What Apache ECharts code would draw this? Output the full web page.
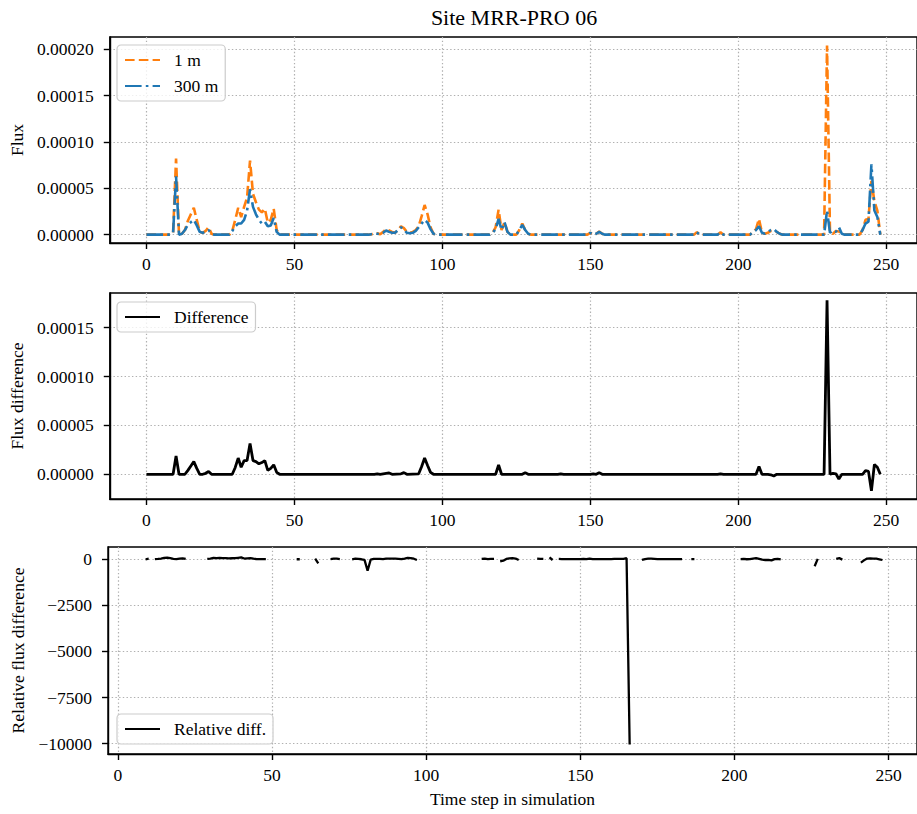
<!DOCTYPE html>
<html><head><meta charset="utf-8">
<script src="https://cdn.jsdelivr.net/npm/echarts@6/dist/echarts.min.js"></script>
<style>html,body{margin:0;padding:0;background:#fff}#c{width:917px;height:814px}</style>
</head><body><div id="c"></div><script>
// ---- tick labels ----
const xTicks = [0, 50, 100, 150, 200, 250];
const fluxTicks = [0, 0.00005, 0.0001, 0.00015, 0.0002];
const diffTicks = [0, 0.00005, 0.0001, 0.00015];
const relTicks = [0, -2500, -5000, -7500, -10000];

// ---- top panel: flux at 1 m and 300 m ----
const timeTop = [0, 8, 9, 10, 11, 12, 13, 14, 15, 16, 17, 18, 19, 20, 21, 22, 23, 28,
  29, 30, 31, 32, 33, 34, 35, 36, 37, 38, 39, 40, 41, 42, 43, 44, 45, 75,
  76, 77, 78, 79, 80, 81, 82, 83, 84, 85, 86, 87, 88, 89, 90, 91, 92, 93, 94, 95, 96, 97, 98, 116,
  117, 118, 119, 120, 121, 122, 123, 125, 126, 127, 128, 129, 130, 149,
  150, 151, 152, 153, 154, 155, 185, 186, 187, 193, 194, 195, 204,
  205, 206, 207, 208, 209, 210, 211, 212, 213, 214, 215, 229,
  230, 231, 232, 233, 234, 235, 236, 241, 242, 243, 244, 245, 246, 247, 248];
const flux1m = [0, 0, 0.2e-5, 8.2e-5, 0, 0.1e-5, 0.5e-5, 1.5e-5, 2.2e-5, 2.9e-5, 1.6e-5, 0.3e-5, 0.2e-5, 0.4e-5, 0.8e-5, 0.1e-5, 0, 0,
  0.4e-5, 1.6e-5, 2.9e-5, 1.9e-5, 3.0e-5, 4.0e-5, 8.0e-5, 4.4e-5, 3.5e-5, 2.7e-5, 2.4e-5, 2.8e-5, 1.3e-5, 1.6e-5, 2.8e-5, 0.5e-5, 0, 0,
  0.05e-5, 0.1e-5, 0.15e-5, 0.05e-5, 0.3e-5, 0.6e-5, 0.45e-5, 0.3e-5, 0.2e-5, 0.5e-5, 0.9e-5, 0.7e-5, 0.3e-5, 0.2e-5, 0.3e-5, 0.5e-5, 0.9e-5, 2.0e-5, 3.2e-5, 2.2e-5, 0.8e-5, 0.1e-5, 0, 0,
  0.2e-5, 0.8e-5, 2.7e-5, 0.5e-5, 1.35e-5, 0.3e-5, 0, 0, 0.5e-5, 1.2e-5, 0.5e-5, 0.1e-5, 0, 0,
  0.2e-5, 0, 0.1e-5, 0.35e-5, 0.1e-5, 0, 0, 0.25e-5, 0, 0, 0.25e-5, 0, 0,
  0.3e-5, 0.6e-5, 1.7e-5, 0.2e-5, 0.1e-5, 0.2e-5, 0.4e-5, 0.4e-5, 0.3e-5, 0.1e-5, 0, 0,
  20.4e-5, 0.2e-5, 0.1e-5, 0.4e-5, 0.35e-5, 0.1e-5, 0, 0, 0.5e-5, 1.6e-5, 1.7e-5, 5.8e-5, 3.6e-5, 2.6e-5, 0];
const flux300m = [0, 0, 0.2e-5, 6.3e-5, 0, 0.1e-5, 0.5e-5, 1.1e-5, 1.35e-5, 1.6e-5, 1.0e-5, 0.3e-5, 0.2e-5, 0.3e-5, 0.5e-5, 0.1e-5, 0, 0,
  0.4e-5, 0.9e-5, 1.2e-5, 1.2e-5, 1.6e-5, 2.6e-5, 4.9e-5, 3.0e-5, 2.2e-5, 1.6e-5, 1.2e-5, 1.4e-5, 0.9e-5, 1.0e-5, 1.8e-5, 0.3e-5, 0, 0,
  0.05e-5, 0.1e-5, 0.1e-5, 0.05e-5, 0.2e-5, 0.45e-5, 0.3e-5, 0.2e-5, 0.2e-5, 0.5e-5, 0.8e-5, 0.55e-5, 0.2e-5, 0.15e-5, 0.2e-5, 0.4e-5, 0.8e-5, 1.2e-5, 1.6e-5, 1.3e-5, 0.6e-5, 0.1e-5, 0, 0,
  0.2e-5, 0.6e-5, 1.7e-5, 0.5e-5, 1.35e-5, 0.3e-5, 0, 0, 0.5e-5, 1.05e-5, 0.5e-5, 0.1e-5, 0, 0,
  0.2e-5, 0, 0.1e-5, 0.3e-5, 0.1e-5, 0, 0, 0.25e-5, 0, 0, 0.25e-5, 0, 0,
  0.3e-5, 0.5e-5, 0.9e-5, 0.2e-5, 0.1e-5, 0.3e-5, 0.5e-5, 0.6e-5, 0.3e-5, 0.1e-5, 0, 0,
  2.6e-5, 0.2e-5, 0.45e-5, 0.3e-5, 0.8e-5, 0.1e-5, 0, 0, 0.5e-5, 1.2e-5, 1.4e-5, 7.6e-5, 2.6e-5, 1.9e-5, 0];

// ---- middle panel: flux difference ----
const timeDiff = [0, 9, 10, 11, 13, 14, 15, 16, 17, 18, 19, 20, 21, 22, 29, 30, 31, 32, 33, 34, 35, 36, 37, 38, 39, 40,
  41, 42, 43, 44, 45, 77, 78, 79, 81, 82, 83, 86, 87, 88, 92, 93, 94, 95, 96, 97, 118, 119, 120, 127, 128, 129,
  139, 140, 141, 150, 151, 152, 153, 154, 193, 194, 195, 206, 207, 208, 210, 211, 212, 213, 229, 230, 231, 232,
  233, 234, 235, 242, 243, 244, 245, 246, 247, 248];
const fluxDiff = [0, 0, 1.86e-5, 0, 0, 0.4e-5, 0.85e-5, 1.3e-5, 0.6e-5, 0, 0, 0.1e-5, 0.28e-5, 0, 0, 0.7e-5, 1.66e-5, 0.72e-5, 1.4e-5, 1.4e-5, 3.14e-5, 1.4e-5, 1.3e-5, 1.07e-5, 1.2e-5, 1.4e-5,
  0.4e-5, 0.6e-5, 0.97e-5, 0.2e-5, 0, 0, 0.05e-5, 0, 0.1e-5, 0.14e-5, 0, 0.05e-5, 0.17e-5, 0, 0.05e-5, 0.8e-5, 1.66e-5, 0.9e-5, 0.2e-5, 0, 0, 0.95e-5, 0, 0, 0.17e-5, 0,
  0, 0.05e-5, 0, 0, 0.05e-5, 0, 0.17e-5, 0, 0, 0.05e-5, 0, 0, 0.79e-5, 0, 0, -0.05e-5, -0.17e-5, 0, 0, 17.8e-5, 0, 0.1e-5,
  0.05e-5, -0.48e-5, 0, 0, 0.38e-5, 0.3e-5, -1.69e-5, 1.0e-5, 0.72e-5, 0];

// ---- bottom panel: relative flux difference (null = no value) ----
const timeRel = [9, 10, 11,
  12, 13, 14, 15, 16, 17, 18, 19, 20, 21, 22, 23,
  29, 30, 31, 32, 33, 34, 35, 36, 37, 38, 39, 40, 41, 42, 43, 44, 45, 46, 47, 48, 49,
  58, 59, 60,
  64, 65, 66,
  69, 70, 71, 72, 73,
  76, 77, 78, 79, 80, 81, 82, 83, 84, 85, 86, 87, 88, 89, 90, 91, 92, 93, 94, 95, 96, 97, 98,
  118, 119, 120, 121, 122, 123,
  124, 125, 126, 127, 128, 129, 130, 131,
  136, 137, 138, 139,
  140, 141, 142,
  143, 144, 145, 146, 147, 148, 149, 150, 151, 152, 153, 154, 155, 156, 157, 158, 159, 160, 161, 162, 163, 164, 165, 166, 167,
  170, 171, 172, 173, 174, 175, 176, 177, 178, 179, 180, 181, 182, 183, 184,
  186, 187, 188,
  202, 203, 204, 205, 206, 207, 208, 209, 210, 211, 212, 213, 214, 215, 216,
  226, 227, 228,
  233, 234, 235, 236,
  241, 242, 243, 244, 245, 246, 247, 248];
const relDiff = [0, 30, null,
  10, 20, 40, 70, 90, 60, 20, 10, 30, 50, 20, null,
  20, 40, 80, 60, 70, 60, 60, 50, 55, 60, 80, 100, 40, 50, 60, 30, 10, 5, 5, 5, null,
  0, 0, null,
  30, -220, null,
  10, 40, 30, 10, null,
  0, 30, 20, 0, -30, -620, -20, 20, 20, 20, 10, 30, 40, 30, 30, 20, 10, 40, 80, 60, 30, -40, null,
  20, 40, 10, 20, 20, null,
  -120, -80, 20, 50, 60, 40, -40, null,
  30, 20, 20, null,
  100, -40, null,
  20, 10, 10, 10, 10, 10, 10, 10, 20, 10, 40, 10, 10, 10, 10, 10, 10, 10, 20, 20, 20, 20, 60, -10050, null,
  -30, 10, 30, 30, 20, 10, 10, 10, 10, 10, 10, 10, 10, 10, null,
  10, 10, null,
  10, 20, 0, 10, 40, 60, 20, -20, -40, -30, -60, 10, 20, -10, null,
  -380, 20, null,
  20, 60, -20, null,
  -180, -60, 40, 50, 40, 30, 0, -40];

const FONT = '"Liberation Serif", "DejaVu Serif", serif';
const FS = 17.5;
const pairs = (xs, ys) => xs.map((x, i) => [x, ys[i] === null ? '-' : ys[i]]);

const chart = echarts.init(document.getElementById('c'), null, {renderer: 'svg', width: 917, height: 814});

const gridLine = {show: true, lineStyle: {color: '#b0b0b0', width: 1.2, type: [1.4, 2.3]}};
function xAx(gi, min, max, extra) {
  return Object.assign({
    type: 'value', gridIndex: gi, min: min, max: max,
    axisLine: {show: true, onZero: false, lineStyle: {color: '#000', width: 1.4}},
    axisTick: {show: true, length: 6, customValues: xTicks, lineStyle: {color: '#000', width: 1.4}},
    axisLabel: {customValues: xTicks, margin: 12, color: '#000', fontFamily: FONT, fontSize: FS},
    splitLine: gridLine
  }, extra || {});
}
function yAx(gi, min, max, ticks, fmt, name, gap) {
  return {
    type: 'value', gridIndex: gi, min: min, max: max,
    name: name, nameLocation: 'middle', nameGap: gap, nameRotate: 90,
    nameTextStyle: {color: '#000', fontFamily: FONT, fontSize: FS},
    axisLine: {show: true, onZero: false, lineStyle: {color: '#000', width: 1.4}},
    axisTick: {show: true, length: 6, customValues: ticks, lineStyle: {color: '#000', width: 1.4}},
    axisLabel: {customValues: ticks, margin: 16, color: '#000', fontFamily: FONT, fontSize: FS, formatter: fmt},
    splitLine: gridLine
  };
}
const fmtFlux = v => Number(v).toFixed(5);
const fmtRel = v => (v < 0 ? '\u2212' + Math.abs(v) : String(v));

const legendBase = {
  orient: 'vertical', itemWidth: 35, itemHeight: 14, itemGap: 6,
  padding: [5, 7, 5, 7],
  backgroundColor: 'rgba(255,255,255,0.8)', borderColor: '#cccccc', borderWidth: 1.2, borderRadius: 4,
  itemStyle: {opacity: 0},
  textStyle: {color: '#000', fontFamily: FONT, fontSize: FS, lineHeight: 20, padding: [0, 0, 0, 9]}
};

chart.setOption({
  animation: false,
  backgroundColor: '#fff',
  title: {text: 'Site MRR-PRO 06', left: 514, top: 6, padding: 0, textAlign: 'center',
    textStyle: {color: '#000', fontFamily: FONT, fontSize: 22, fontWeight: 'normal'}},
  grid: [
    {left: 108, top: 37, width: 812.5, height: 206, show: true, borderColor: '#000', borderWidth: 1.4},
    {left: 108, top: 293, width: 812.5, height: 206, show: true, borderColor: '#000', borderWidth: 1.4},
    {left: 108, top: 547, width: 812.5, height: 207, show: true, borderColor: '#000', borderWidth: 1.4}
  ],
  xAxis: [
    xAx(0, -12.4, 260.4),
    xAx(1, -12.4, 260.4),
    xAx(2, -3.2, 259.2, {name: 'Time step in simulation', nameLocation: 'middle', nameGap: 36,
      nameTextStyle: {color: '#000', fontFamily: FONT, fontSize: FS}})
  ],
  yAxis: [
    yAx(0, -0.000009, 0.0002133, fluxTicks, fmtFlux, 'Flux', 79),
    yAx(1, -0.0000253, 0.0001855, diffTicks, fmtFlux, 'Flux difference', 79),
    yAx(2, -10560, 665, relTicks, fmtRel, 'Relative flux difference', 79)
  ],
  legend: [
    Object.assign({}, legendBase, {data: ['1 m', '300 m'], left: 117, top: 45}),
    Object.assign({}, legendBase, {data: ['Difference'], left: 117, top: 302}),
    Object.assign({}, legendBase, {data: ['Relative diff.'], left: 117, top: 714})
  ],
  series: [
    {name: '1 m', type: 'line', xAxisIndex: 0, yAxisIndex: 0, data: pairs(timeTop, flux1m),
      symbol: 'none', showSymbol: false, itemStyle: {color: '#ff7f0e'},
      lineStyle: {color: '#ff7f0e', width: 2.6, type: [9.6, 4.2]}},
    {name: '300 m', type: 'line', xAxisIndex: 0, yAxisIndex: 0, data: pairs(timeTop, flux300m),
      symbol: 'none', showSymbol: false, itemStyle: {color: '#1f77b4'},
      lineStyle: {color: '#1f77b4', width: 2.6, type: [16.6, 4.2, 2.6, 4.2]}},
    {name: 'Difference', type: 'line', xAxisIndex: 1, yAxisIndex: 1, data: pairs(timeDiff, fluxDiff),
      symbol: 'none', showSymbol: false, itemStyle: {color: '#000'},
      lineStyle: {color: '#000', width: 2.8}},
    {name: 'Relative diff.', type: 'line', xAxisIndex: 2, yAxisIndex: 2, data: pairs(timeRel, relDiff),
      symbol: 'none', showSymbol: false, connectNulls: false, itemStyle: {color: '#000'},
      lineStyle: {color: '#000', width: 2.3}}
  ]
});
</script></body></html>
